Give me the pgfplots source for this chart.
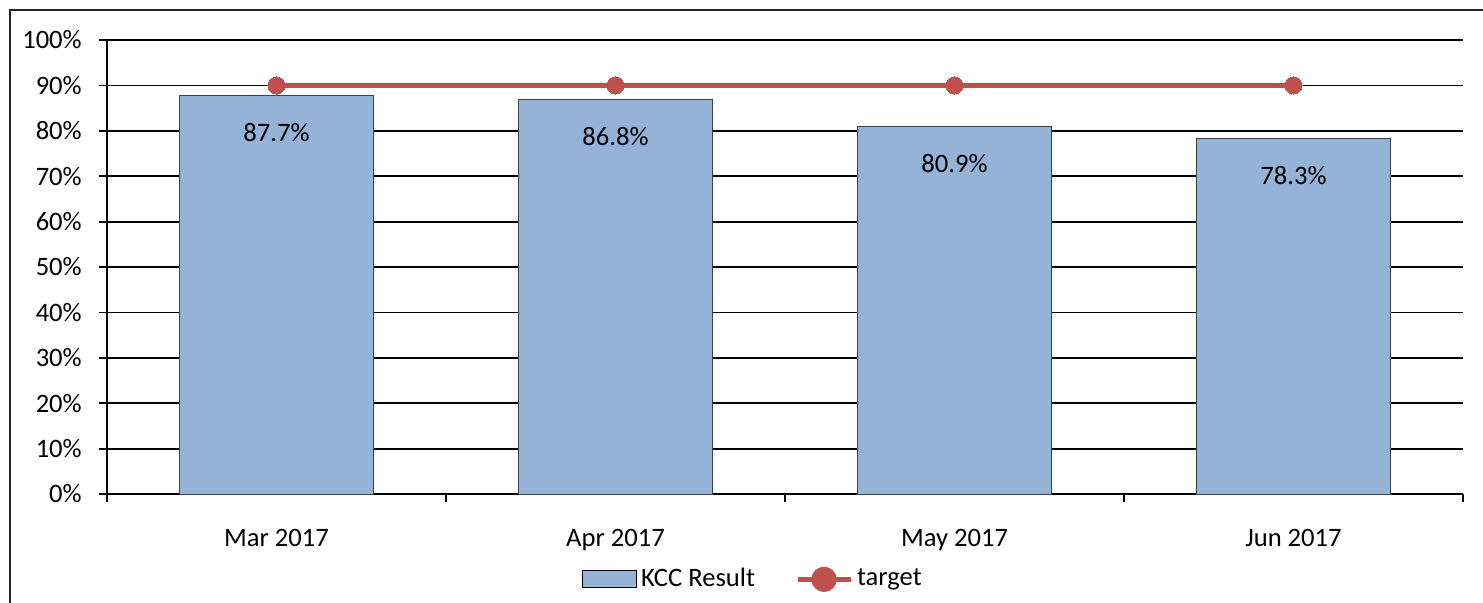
\documentclass[border=0pt]{standalone}
\usepackage{pgfplots}
\pgfplotsset{compat=1.18}
\usepackage{fontspec}
\setmainfont{Carlito}
\definecolor{barblue}{HTML}{95B3D7}
\definecolor{tred}{HTML}{C0504D}
\definecolor{edgegray}{HTML}{404040}
\begin{document}
\fontsize{13.3}{15}\selectfont
\begin{tikzpicture}
\useasboundingbox (0,0) rectangle (741.5pt,301pt);
\draw[line width=0.9pt, black!85] (5pt,-20pt) -- (5pt,296pt) -- (760pt,296pt);
\begin{axis}[
  at={(53.5pt,54pt)}, anchor=south west,
  scale only axis, width=678pt, height=227pt,
  xmin=-0.5, xmax=3.5, ymin=0, ymax=100,
  axis x line*=bottom, axis y line*=left,
  axis line style={-, line width=0.9pt},
  xtick={-0.5,0.5,1.5,2.5,3.5},
  xticklabels={Mar 2017,Apr 2017,May 2017,Jun 2017},
  x tick label as interval,
  ytick={0,10,...,100},
  yticklabel={\pgfmathprintnumber{\tick}\%},
  /pgf/number format/assume math mode=true,
  tick align=outside, major tick length=4pt,
  tick style={line width=0.9pt, black},
  ymajorgrids, grid style={line width=0.9pt, black},
  x tick label style={yshift=-9pt},
  y tick label style={xshift=-4pt},
  font=\fontsize{13.3}{15}\selectfont,
  legend style={at={(axis description cs:0.477,-0.188)}, anchor=center,
    draw=none, legend columns=2, /tikz/every even column/.append style={column sep=18pt},
    font=\fontsize{13.3}{15}\selectfont},
  clip=false,
]
\addplot[ybar, bar width=0.572, fill=barblue, draw=edgegray, line width=0.5pt,
  nodes near coords={\pgfmathprintnumber[fixed,fixed zerofill,precision=1]{\pgfplotspointmeta}\%},
  nodes near coords style={anchor=center, yshift=-18.5pt, font=\fontsize{13.3}{15}\selectfont},
  point meta=explicit symbolic]
  coordinates {(0,87.7)[87.7] (1,86.8)[86.8] (2,80.9)[80.9] (3,78.3)[78.3]};
\addlegendimage{area legend, fill=barblue, draw=black, line width=0.6pt,
  legend image code/.code={\draw[fill=barblue, draw=black, line width=0.6pt] (0pt,-4.25pt) rectangle (27pt,4.25pt);}}
\addplot[tred, line width=2.6pt, mark=*, mark size=4.3pt, mark options={fill=tred, draw=tred, line width=0pt},
  forget plot]
  coordinates {(0,90) (1,90) (2,90) (3,90)};
\addlegendimage{tred, line width=2.6pt, mark=*, mark size=5pt, mark options={fill=tred, draw=tred},
  legend image code/.code={\draw[tred, line width=2.6pt] (0pt,0pt) -- (26.5pt,0pt); \fill[tred] (13.25pt,0pt) circle (5pt);}}
\legend{,KCC Result,target}
\end{axis}
\end{tikzpicture}
\end{document}
